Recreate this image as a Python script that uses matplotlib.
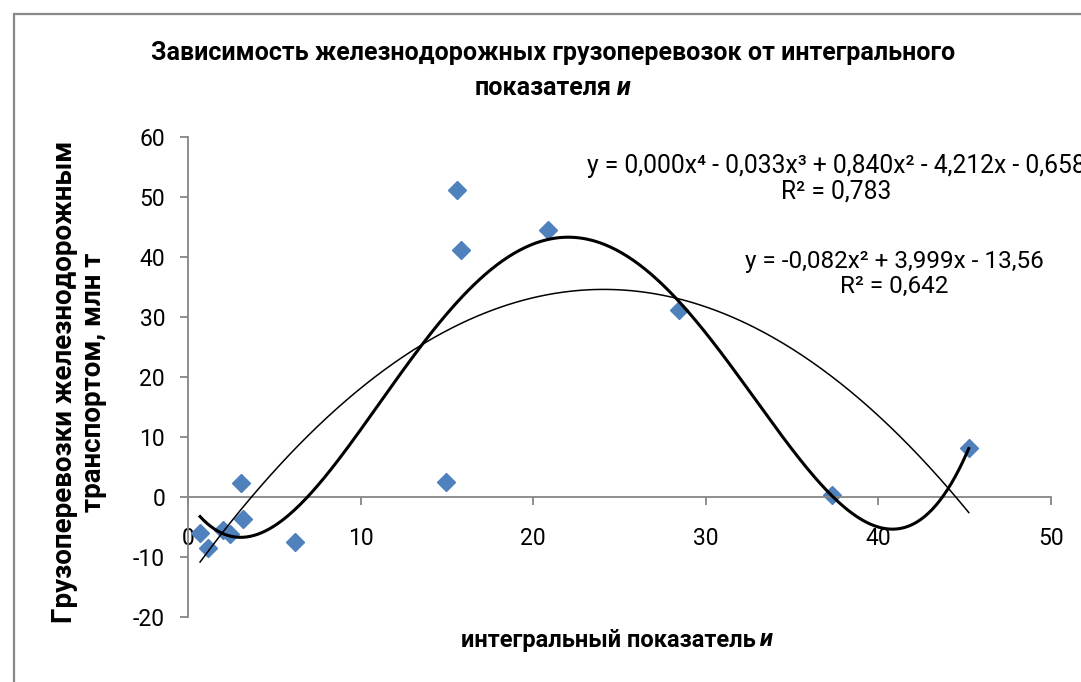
import numpy as np
import matplotlib
matplotlib.use("Agg")
import matplotlib.pyplot as plt
from matplotlib.patches import Rectangle

OUTPUT_FILE = "out.png"
FIGURE_SIZE = (10.81, 6.82)
DPI = 100
FONT = ["Roboto", "DejaVu Sans"]
AXIS_GRAY = "#868686"
MARKER_BLUE = "#4F81BD"

# integral indicator u vs rail freight (mln t)
u_values = [0.70, 1.15, 2.05, 2.45, 3.10, 3.20, 6.20, 14.95, 15.58, 15.80, 20.86, 28.45, 37.30, 45.25]
freight_values = [-6.0, -8.5, -5.5, -6.1, 2.3, -3.6, -7.4, 2.6, 51.2, 41.2, 44.5, 31.2, 0.4, 8.2]

x_ticks = [0, 10, 20, 30, 40, 50]
y_ticks = [-20, -10, 0, 10, 20, 30, 40, 50, 60]

title_line1 = "Зависимость железнодорожных грузоперевозок от интегрального"
title_line2 = [("показателя", "normal"), ("и", "italic")]
x_label = [("интегральный показатель", "normal"), ("и", "italic")]
y_label = "Грузоперевозки железнодорожным\nтранспортом, млн т"

quartic_label = "y = 0,000x⁴ - 0,033x³ + 0,840x² - 4,212x - 0,658\nR² = 0,783"
quadratic_label = "y = -0,082x² + 3,999x - 13,56\nR² = 0,642"


def run():
    plt.rcParams["font.family"] = FONT
    fig = plt.figure(figsize=FIGURE_SIZE, dpi=DPI)
    ax = fig.add_axes([188 / 1081, 1 - 617.3 / 682, 862.7 / 1081, 480 / 682])

    __plot_points(ax)
    __plot_trends(ax)
    __style_axes(ax)
    __add_texts(fig)

    # chart area frame, right and bottom edges fall outside the canvas
    fig.patches.append(Rectangle((14 / 1081, -0.2), 1.2, 1.2 - 14 / 682,
                                 transform=fig.transFigure, fill=False,
                                 edgecolor="#888888", linewidth=1.6))

    fig.savefig(OUTPUT_FILE, dpi=DPI)


def __plot_points(ax):
    ax.plot(u_values, freight_values, linestyle="none", marker="D",
            markersize=9.5, color=MARKER_BLUE, zorder=2)


def __plot_trends(ax):
    u = np.array(u_values)
    f = np.array(freight_values)
    xs = np.linspace(u.min(), u.max(), 400)

    quad = np.polyfit(u, f, 2)
    quart = np.polyfit(u, f, 4)

    ax.plot(xs, np.polyval(quad, xs), color="black", linewidth=1.1, zorder=3)
    ax.plot(xs, np.polyval(quart, xs), color="black", linewidth=2.2, zorder=3)


def __style_axes(ax):
    ax.set_xlim(0, 50)
    ax.set_ylim(-20, 60)
    ax.set_xticks(x_ticks)
    ax.set_yticks(y_ticks)
    ax.set_xticklabels([str(v) for v in x_ticks])
    ax.set_yticklabels([str(v) for v in y_ticks])

    for side in ("top", "right"):
        ax.spines[side].set_visible(False)
    ax.spines["bottom"].set_position(("data", 0))
    ax.spines["left"].set_position(("data", 0))
    for side in ("bottom", "left"):
        ax.spines[side].set_color(AXIS_GRAY)
        ax.spines[side].set_linewidth(1.3)

    ax.tick_params(axis="both", direction="out", length=5.5, width=1.3,
                   color=AXIS_GRAY, labelsize=16.5, labelcolor="black")
    ax.tick_params(axis="x", pad=16)
    ax.tick_params(axis="y", pad=11)
    ax.patch.set_visible(False)


def __centered_segments(fig, x_px, y_px, parts, size):
    renderer = fig.canvas.get_renderer()
    W, H = fig.bbox.width, fig.bbox.height
    gap = size * 0.3
    texts = []
    for s, style in parts:
        t = fig.text(0, 1 - y_px / H, s, fontsize=size, fontweight="bold",
                     fontstyle=style, va="center", ha="left")
        texts.append(t)
    widths = [t.get_window_extent(renderer).width for t in texts]
    total = sum(widths) + gap * (len(texts) - 1)
    left = x_px - total / 2
    for t, w in zip(texts, widths):
        t.set_x(left / W)
        left += w + gap


def __add_texts(fig):
    fig.text(553 / 1081, 1 - 53 / 682, title_line1, fontsize=18, fontweight="bold",
             ha="center", va="center")
    __centered_segments(fig, 553, 88, title_line2, 18)
    __centered_segments(fig, 617, 640, x_label, 17)

    fig.text(79 / 1081, 1 - 382 / 682, y_label, rotation=90, fontsize=20,
             fontweight="bold", ha="center", va="center", multialignment="center",
             linespacing=1.12)

    fig.text(836 / 1081, 1 - 179 / 682, quartic_label, fontsize=17.7,
             ha="center", va="center", multialignment="center", linespacing=1.1)
    fig.text(894 / 1081, 1 - 274 / 682, quadratic_label, fontsize=17.5,
             ha="center", va="center", multialignment="center", linespacing=1.1)


if __name__ == "__main__":
    run()
